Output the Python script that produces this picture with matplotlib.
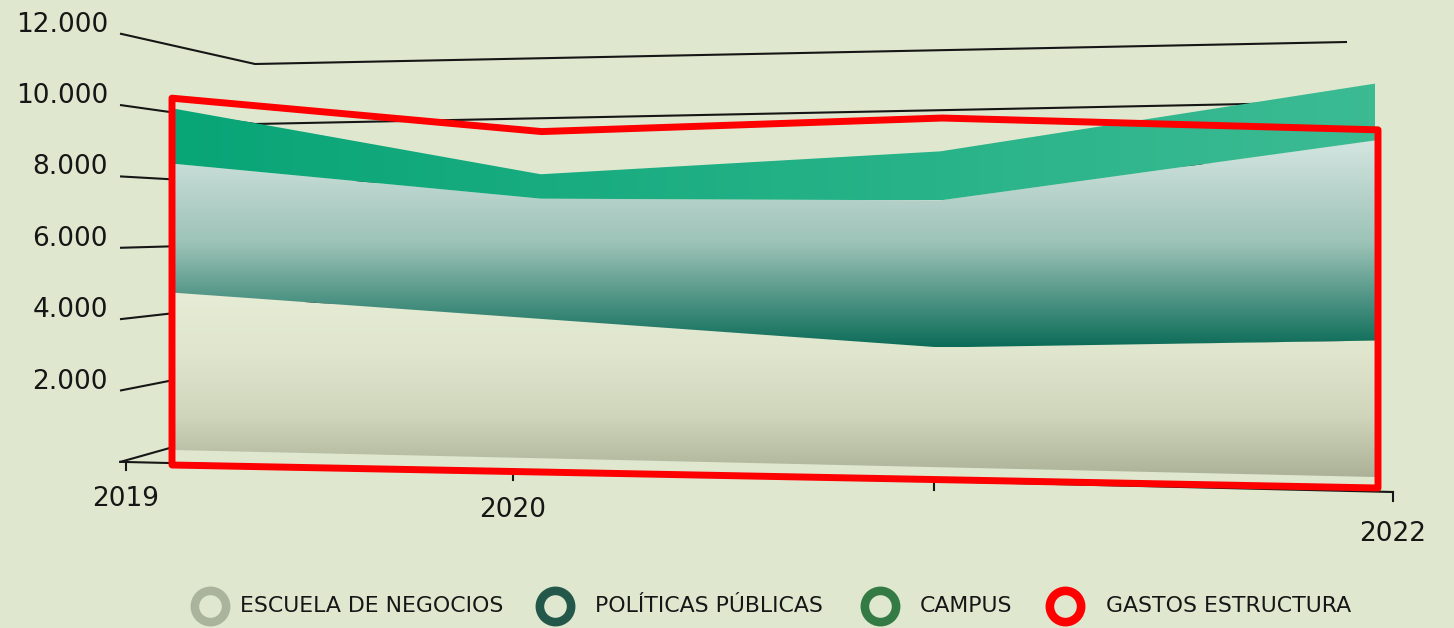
"""Stacked area chart (perspective view): escuela / politicas / campus + gastos estructura outline"""
import matplotlib
matplotlib.use('Agg')
import matplotlib.pyplot as plt
import numpy as np
from matplotlib.transforms import Transform
from matplotlib.colors import LinearSegmentedColormap

# ---- data ----
years = [2019, 2020, 2021, 2022]
escuela = [4700, 4000, 3300, 3600]
politicas = [3850, 3450, 4050, 5280]
campus = [1650, 700, 1350, 1500]
gastos = [10950, 9770, 9960, 9450]

y_ticks = [0, 2000, 4000, 6000, 8000, 10000, 12000]
x_labels = ['2019', '2020', '', '2022']
series_names = ['ESCUELA DE NEGOCIOS', 'POLÍTICAS PÚBLICAS', 'CAMPUS', 'GASTOS ESTRUCTURA']
legend_colors = ['#aab39c', '#23574a', '#347a45', '#ff0000']

# ---- style / layout ----
W, H = 1454, 628
BG = '#dfe8cf'
INK = '#161616'
FONT = 'DejaVu Sans'
LEG_RING_X = [210, 555, 880, 1065]
LEG_TEXT_X = [240, 595, 920, 1106]
LEG_Y = 606


class Persp(Transform):
    """homography (year, value) -> pixel, fixed by 4 corner matches"""
    input_dims = output_dims = 2
    is_separable = False
    has_inverse = False

    def __init__(self, src, dst):
        super().__init__()
        self.o = np.array([2019.0, 0.0])
        self.s = np.array([1.0, 1000.0])
        A, b = [], []
        for (x, y), (u, v) in zip(src, dst):
            x, y = x - 2019.0, y / 1000.0
            A.append([x, y, 1, 0, 0, 0, -u * x, -u * y]); b.append(u)
            A.append([0, 0, 0, x, y, 1, -v * x, -v * y]); b.append(v)
        h = np.linalg.solve(np.array(A, float), np.array(b, float))
        self.m = np.append(h, 1.0).reshape(3, 3)

    def transform_non_affine(self, pts):
        p = (np.asarray(pts, float) - self.o) / self.s
        q = np.column_stack([p, np.ones(len(p))]) @ self.m.T
        return q[:, :2] / q[:, 2:3]


def plane(left, right, vtop):
    # left/right = (x, y_at_0, y_at_vtop)
    src = [(2019, 0), (2022, 0), (2019, vtop), (2022, vtop)]
    dst = [(left[0], left[1]), (right[0], right[1]),
           (left[0], left[2]), (right[0], right[2])]
    return Persp(src, dst)


HA = plane((172, 450, 115), (1375, 477, 98), 10000)     # areas
HR = plane((172, 465, 130), (1378, 488, 109), 10000)    # gastos outline
HG = plane((255, 424, 64), (1347, 402, 42), 12000)      # grid lines
HX = plane((126, 462, 127), (1393, 492, 111), 10000)    # x axis


def label_anchor(v):
    return 120, 462 - 0.0357 * v


fig = plt.figure(figsize=(W / 100, H / 100), dpi=100, facecolor=BG)
ax = fig.add_axes([0, 0, 1, 1])
ax.set_xlim(0, W)
ax.set_ylim(H, 0)
ax.set_autoscale_on(False)
ax.axis('off')

# grid lines + connectors to the value labels
for v in y_ticks:
    ax0, ay0 = label_anchor(v)
    g = HG.transform(np.array([[2019, v], [2022, v]]))
    ax.plot([ax0, g[0, 0], g[1, 0]], [ay0, g[0, 1], g[1, 1]],
            color=INK, lw=1.5, zorder=1, solid_capstyle='butt')
    if v > 0:
        ax.text(ax0 - 12, ay0 - 2, f'{v:,}'.replace(',', '.'), ha='right',
                va='baseline', fontsize=19, color=INK, family=FONT)

# x axis
xt = HX + ax.transData
ax.plot([2019 - 0.016, 2022], [0, 0], color=INK, lw=1.5, transform=xt, zorder=1)
for yr, lab in zip(years, x_labels):
    ax.plot([yr, yr], [0, -240], color=INK, lw=1.5, transform=xt, zorder=1)
    if lab:
        ax.text(yr, -1100, lab, transform=xt, ha='center', va='center',
                fontsize=19, color=INK, family=FONT)

# stacked areas
at = HA + ax.transData
layers = ax.stackplot(years, escuela, politicas, campus, transform=at,
                      linewidth=0, zorder=2)
cmaps = [
    LinearSegmentedColormap.from_list('esc', ['#e6ecd5', '#dfe6cd', '#cfd6bc', '#abb298']),
    LinearSegmentedColormap.from_list('pol', ['#d4e5e0', '#9cc2b7', '#0c6c58']),
    LinearSegmentedColormap.from_list('cam', ['#08a577', '#3cbb93']),
]
for coll, cmap, horiz in zip(layers, cmaps, [False, False, True]):
    coll.set_facecolor('none')
    path = coll.get_paths()[0]
    pv = HA.transform(path.vertices)
    x0, x1 = pv[:, 0].min(), pv[:, 0].max()
    y0, y1 = pv[:, 1].min(), pv[:, 1].max()
    grad = np.linspace(0, 1, 256)
    grad = grad.reshape(1, -1) if horiz else grad.reshape(-1, 1)
    im = ax.imshow(grad, cmap=cmap, extent=(x0, x1, y1, y0), origin='upper',
                   aspect='auto', interpolation='bilinear', zorder=2)
    im.set_clip_path(path, at)

# gastos estructura outline
ax.fill_between(years, 0, gastos, transform=HR + ax.transData,
                facecolor='none', edgecolor='#ff0000', linewidth=5,
                joinstyle='round', zorder=5)

# legend (rings + labels)
for rx, tx, name, col in zip(LEG_RING_X, LEG_TEXT_X, series_names, legend_colors):
    ax.plot([rx], [LEG_Y], marker='o', ms=22.5, mfc='none', mec=col,
            mew=6.2, ls='none', clip_on=False, zorder=6)
    ax.text(tx, LEG_Y, name, ha='left', va='center', fontsize=15.8,
            color=INK, family=FONT)

fig.savefig('out.png', dpi=100, facecolor=BG)
